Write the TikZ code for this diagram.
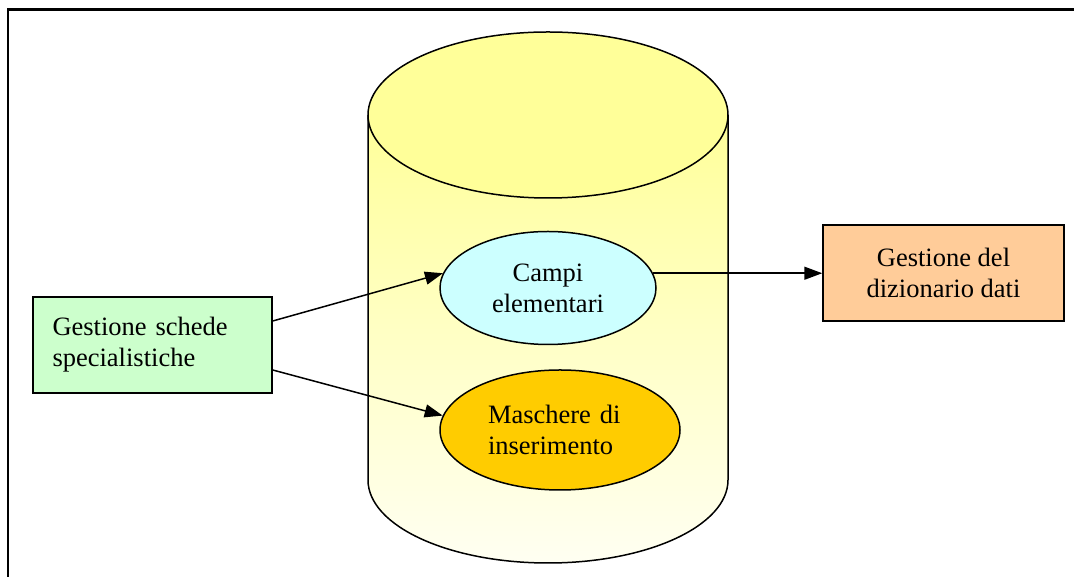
\documentclass[tikz,border=0pt]{standalone}
\usepackage{fontspec}
\setmainfont{Liberation Serif}
\usetikzlibrary{shapes.geometric, arrows.meta}
\definecolor{dbyellow}{RGB}{255,255,153}
\definecolor{dbpale}{RGB}{255,255,242}
\definecolor{specgreen}{RGB}{204,255,204}
\definecolor{fieldcyan}{RGB}{204,255,255}
\definecolor{maskgold}{RGB}{255,204,0}
\definecolor{dictorange}{RGB}{255,204,153}

\begin{document}
\begin{tikzpicture}[x=1pt, y=1pt,
    every node/.style={font=\fontsize{26.5}{31}\selectfont},
    procbox/.style={draw, line width=1.5pt, minimum width=239pt, minimum height=96pt},
    archive/.style={ellipse, draw, line width=1.5pt, align=center},
    flow/.style={-{Triangle[length=18pt,width=13pt]}, line width=1.5pt}]
    \useasboundingbox (0,0) rectangle (1074,577);

    % Draw frame (only left and top edges visible)
    \draw[line width=2.2pt] (8,0) -- (8,567.5) -- (1074,567.5);

    % Draw cylinder body with shading
    \shade[top color=dbyellow, bottom color=dbpale] (368,462) -- (368,97)
        arc[start angle=180, end angle=360, x radius=180, y radius=83] -- (728,462) -- cycle;
    \draw[line width=1.5pt] (368,462) -- (368,97)
        arc[start angle=180, end angle=360, x radius=180, y radius=83] -- (728,462);
    % Top of the cylinder
    \draw[fill=dbyellow, line width=1.5pt] (548,462) ellipse [x radius=180, y radius=83];

    % Contents of the archive
    \node[archive, fill=fieldcyan, minimum width=216pt, minimum height=113pt] (campi) at (548,289) {Campi\\elementari};
    \node[archive, fill=maskgold, minimum width=240pt, minimum height=120pt, text width=144pt, align=left] (maschere) at (560,147) {Maschere di\\inserimento};

    % Processes outside
    \node[procbox, fill=specgreen, text width=200pt, align=left] (schede) at (152.5,232) {Gestione schede\\specialistiche};
    \node[procbox, fill=dictorange, minimum width=241pt, align=center] (dizionario) at (943.5,304) {Gestione del\\dizionario dati};

    % Arrows
    \draw[flow] ([yshift=24pt]schede.east) -- (campi.172);
    \draw[flow] ([yshift=-25pt]schede.east) -- (maschere.173);
    \draw[flow] (campi.8) -- (campi.8 -| dizionario.west);
\end{tikzpicture}
\end{document}
